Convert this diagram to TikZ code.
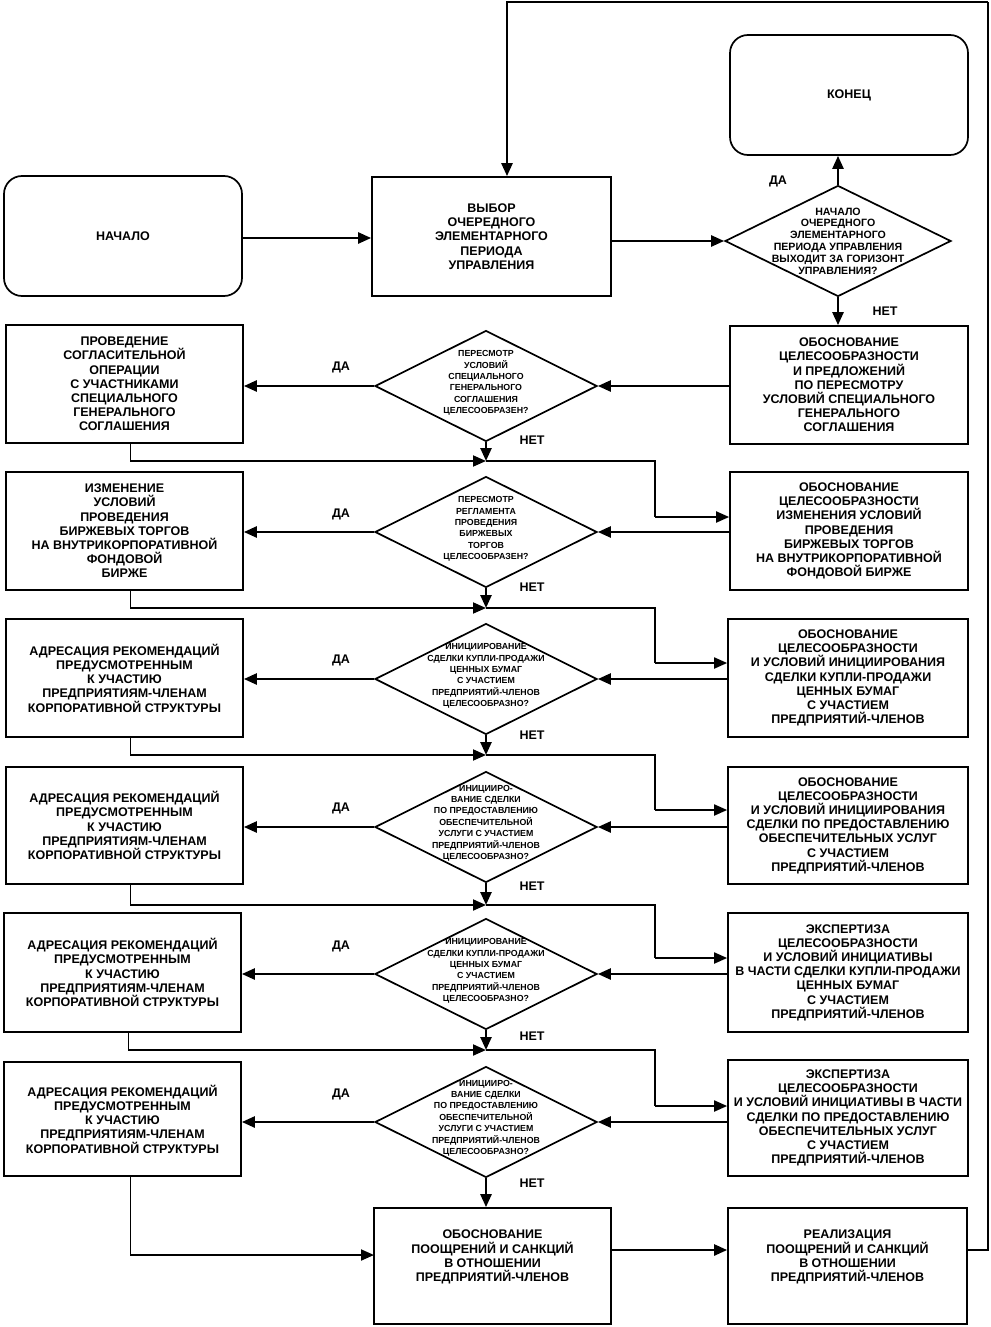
\documentclass[tikz,border=0pt]{standalone}
\usepackage{fontspec}
\setmainfont{Liberation Sans}
\usetikzlibrary{shapes.geometric,arrows.meta}
\newcommand\bxfont{\fontsize{12.5}{14.2}\selectfont\bfseries}
\newcommand\dmfont{\fontsize{8.8}{11.4}\selectfont\bfseries}
\newcommand\dmbigfont{\fontsize{10.6}{11.8}\selectfont\bfseries}
\newcommand\lbfont{\fontsize{12.5}{13}\selectfont\bfseries}
\begin{document}
\begin{tikzpicture}[x=1pt,y=-1pt,
  box/.style={draw, line width=1.7pt, align=center, inner sep=0pt, font=\bxfont,
    minimum width=238, minimum height=118},
  rbox/.style={box, rounded corners=18pt, minimum height=120},
  dia/.style={draw, diamond, line width=1.7pt, inner sep=0pt,
    minimum width=222, minimum height=111},
  dtxt/.style={align=center, inner sep=0pt, font=\dmfont},
  txt/.style={align=center, inner sep=0pt, font=\bxfont},
  lbl/.style={inner sep=0pt, font=\lbfont},
  conn/.style={line width=2.5pt, -{Triangle[length=13pt,width=11pt]}},
  merge/.style={line width=1.7pt},
  mergearr/.style={line width=1.9pt, -{Triangle[length=13pt,width=11pt]}},
]
\useasboundingbox (0,0) rectangle (990,1327);

% ---- top ----
\node[rbox] (start) at (123,236) {НАЧАЛО};
\node[box, minimum width=239, minimum height=119] (choose) at (491.5,236.5)
  {ВЫБОР\\ОЧЕРЕДНОГО\\ЭЛЕМЕНТАРНОГО\\ПЕРИОДА\\УПРАВЛЕНИЯ};
\node[rbox] (end) at (849,95) {КОНЕЦ};
\node[dia, minimum width=226] (d1) at (838,241) {};
\node[dtxt, font=\dmbigfont] (d1t) at (838,241)
  {НАЧАЛО\\ОЧЕРЕДНОГО\\ЭЛЕМЕНТАРНОГО\\ПЕРИОДА УПРАВЛЕНИЯ\\ВЫХОДИТ ЗА ГОРИЗОНТ\\УПРАВЛЕНИЯ?};
\node[lbl] (yes0) at (778,181) {ДА};
\node[lbl] (no0) at (885,311) {НЕТ};

% ---- row 1 ----
\node[box, minimum width=237] (l1) at (124.5,384)
  {ПРОВЕДЕНИЕ\\СОГЛАСИТЕЛЬНОЙ\\ОПЕРАЦИИ\\С УЧАСТНИКАМИ\\СПЕЦИАЛЬНОГО\\ГЕНЕРАЛЬНОГО\\СОГЛАШЕНИЯ};
\node[dia] (d2) at (486,386) {};
\node[dtxt] (d2t) at (486,383)
  {ПЕРЕСМОТР\\УСЛОВИЙ\\СПЕЦИАЛЬНОГО\\ГЕНЕРАЛЬНОГО\\СОГЛАШЕНИЯ\\ЦЕЛЕСООБРАЗЕН?};
\node[box] (r1) at (849,385)
  {ОБОСНОВАНИЕ\\ЦЕЛЕСООБРАЗНОСТИ\\И ПРЕДЛОЖЕНИЙ\\ПО ПЕРЕСМОТРУ\\УСЛОВИЙ СПЕЦИАЛЬНОГО\\ГЕНЕРАЛЬНОГО\\СОГЛАШЕНИЯ};
\node[lbl] (yes1) at (341,367) {ДА};
\node[lbl] (no1) at (532,440) {НЕТ};

% ---- row 2 ----
\node[box, minimum width=237] (l2) at (124.5,531)
  {ИЗМЕНЕНИЕ\\УСЛОВИЙ\\ПРОВЕДЕНИЯ\\БИРЖЕВЫХ ТОРГОВ\\НА ВНУТРИКОРПОРАТИВНОЙ\\ФОНДОВОЙ\\БИРЖЕ};
\node[dia] (d3) at (486,532) {};
\node[dtxt] (d3t) at (486,529)
  {ПЕРЕСМОТР\\РЕГЛАМЕНТА\\ПРОВЕДЕНИЯ\\БИРЖЕВЫХ\\ТОРГОВ\\ЦЕЛЕСООБРАЗЕН?};
\node[box] (r2) at (849,531)
  {ОБОСНОВАНИЕ\\ЦЕЛЕСООБРАЗНОСТИ\\ИЗМЕНЕНИЯ УСЛОВИЙ\\ПРОВЕДЕНИЯ\\БИРЖЕВЫХ ТОРГОВ\\НА ВНУТРИКОРПОРАТИВНОЙ\\ФОНДОВОЙ БИРЖЕ};
\node[lbl] (yes2) at (341,514) {ДА};
\node[lbl] (no2) at (532,587) {НЕТ};

% ---- row 3 ----
\node[box, minimum width=237] (l3) at (124.5,678)
  {АДРЕСАЦИЯ РЕКОМЕНДАЦИЙ\\ПРЕДУСМОТРЕННЫМ\\К УЧАСТИЮ\\ПРЕДПРИЯТИЯМ-ЧЛЕНАМ\\КОРПОРАТИВНОЙ СТРУКТУРЫ};
\node[dia] (d4) at (486,679) {};
\node[dtxt] (d4t) at (486,676)
  {ИНИЦИИРОВАНИЕ\\СДЕЛКИ КУПЛИ-ПРОДАЖИ\\ЦЕННЫХ БУМАГ\\С УЧАСТИЕМ\\ПРЕДПРИЯТИЙ-ЧЛЕНОВ\\ЦЕЛЕСООБРАЗНО?};
\node[box, minimum width=240] (r3) at (848,678)
  {ОБОСНОВАНИЕ\\ЦЕЛЕСООБРАЗНОСТИ\\И УСЛОВИЙ ИНИЦИИРОВАНИЯ\\СДЕЛКИ КУПЛИ-ПРОДАЖИ\\ЦЕННЫХ БУМАГ\\С УЧАСТИЕМ\\ПРЕДПРИЯТИЙ-ЧЛЕНОВ};
\node[lbl] (yes3) at (341,660) {ДА};
\node[lbl] (no3) at (532,735) {НЕТ};

% ---- row 4 ----
\node[box, minimum width=237, minimum height=117] (l4) at (124.5,825.5)
  {АДРЕСАЦИЯ РЕКОМЕНДАЦИЙ\\ПРЕДУСМОТРЕННЫМ\\К УЧАСТИЮ\\ПРЕДПРИЯТИЯМ-ЧЛЕНАМ\\КОРПОРАТИВНОЙ СТРУКТУРЫ};
\node[dia] (d5) at (486,827) {};
\node[dtxt] (d5t) at (486,823)
  {ИНИЦИИРО-\\ВАНИЕ СДЕЛКИ\\ПО ПРЕДОСТАВЛЕНИЮ\\ОБЕСПЕЧИТЕЛЬНОЙ\\УСЛУГИ С УЧАСТИЕМ\\ПРЕДПРИЯТИЙ-ЧЛЕНОВ\\ЦЕЛЕСООБРАЗНО?};
\node[box, minimum width=240, minimum height=117] (r4) at (848,825.5)
  {ОБОСНОВАНИЕ\\ЦЕЛЕСООБРАЗНОСТИ\\И УСЛОВИЙ ИНИЦИИРОВАНИЯ\\СДЕЛКИ ПО ПРЕДОСТАВЛЕНИЮ\\ОБЕСПЕЧИТЕЛЬНЫХ УСЛУГ\\С УЧАСТИЕМ\\ПРЕДПРИЯТИЙ-ЧЛЕНОВ};
\node[lbl] (yes4) at (341,808) {ДА};
\node[lbl] (no4) at (532,886) {НЕТ};

% ---- row 5 ----
\node[box, minimum width=237, minimum height=119] (l5) at (122.5,972.5)
  {АДРЕСАЦИЯ РЕКОМЕНДАЦИЙ\\ПРЕДУСМОТРЕННЫМ\\К УЧАСТИЮ\\ПРЕДПРИЯТИЯМ-ЧЛЕНАМ\\КОРПОРАТИВНОЙ СТРУКТУРЫ};
\node[dia] (d6) at (486,974) {};
\node[dtxt] (d6t) at (486,971)
  {ИНИЦИИРОВАНИЕ\\СДЕЛКИ КУПЛИ-ПРОДАЖИ\\ЦЕННЫХ БУМАГ\\С УЧАСТИЕМ\\ПРЕДПРИЯТИЙ-ЧЛЕНОВ\\ЦЕЛЕСООБРАЗНО?};
\node[box, minimum width=240, minimum height=119] (r5) at (848,972.5)
  {ЭКСПЕРТИЗА\\ЦЕЛЕСООБРАЗНОСТИ\\И УСЛОВИЙ ИНИЦИАТИВЫ\\В ЧАСТИ СДЕЛКИ КУПЛИ-ПРОДАЖИ\\ЦЕННЫХ БУМАГ\\С УЧАСТИЕМ\\ПРЕДПРИЯТИЙ-ЧЛЕНОВ};
\node[lbl] (yes5) at (341,946) {ДА};
\node[lbl] (no5) at (532,1036) {НЕТ};

% ---- row 6 ----
\node[box, minimum width=237, minimum height=114] (l6) at (122.5,1119)
  {АДРЕСАЦИЯ РЕКОМЕНДАЦИЙ\\ПРЕДУСМОТРЕННЫМ\\К УЧАСТИЮ\\ПРЕДПРИЯТИЯМ-ЧЛЕНАМ\\КОРПОРАТИВНОЙ СТРУКТУРЫ};
\node[dia] (d7) at (486,1122) {};
\node[dtxt] (d7t) at (486,1118)
  {ИНИЦИИРО-\\ВАНИЕ СДЕЛКИ\\ПО ПРЕДОСТАВЛЕНИЮ\\ОБЕСПЕЧИТЕЛЬНОЙ\\УСЛУГИ С УЧАСТИЕМ\\ПРЕДПРИЯТИЙ-ЧЛЕНОВ\\ЦЕЛЕСООБРАЗНО?};
\node[box, minimum width=240, minimum height=116] (r6) at (848,1118)
  {ЭКСПЕРТИЗА\\ЦЕЛЕСООБРАЗНОСТИ\\И УСЛОВИЙ ИНИЦИАТИВЫ В ЧАСТИ\\СДЕЛКИ ПО ПРЕДОСТАВЛЕНИЮ\\ОБЕСПЕЧИТЕЛЬНЫХ УСЛУГ\\С УЧАСТИЕМ\\ПРЕДПРИЯТИЙ-ЧЛЕНОВ};
\node[lbl] (yes6) at (341,1094) {ДА};
\node[lbl] (no6) at (532,1183) {НЕТ};

% ---- bottom ----
\node[box, minimum width=237, minimum height=116] (b1) at (492.5,1266) {};
\node[txt] (b1t) at (492.5,1257)
  {ОБОСНОВАНИЕ\\ПООЩРЕНИЙ И САНКЦИЙ\\В ОТНОШЕНИИ\\ПРЕДПРИЯТИЙ-ЧЛЕНОВ};
\node[box, minimum width=239, minimum height=116] (b2) at (847.5,1266) {};
\node[txt] (b2t) at (847.5,1257)
  {РЕАЛИЗАЦИЯ\\ПООЩРЕНИЙ И САНКЦИЙ\\В ОТНОШЕНИИ\\ПРЕДПРИЯТИЙ-ЧЛЕНОВ};

% ---- helper coordinates ----
\coordinate (j1) at (486,461);
\coordinate (j2) at (486,608);
\coordinate (j3) at (486,755);
\coordinate (j4) at (486,905);
\coordinate (j5) at (486,1050);
\coordinate (c2) at (655,517);
\coordinate (c3) at (655,663);
\coordinate (c4) at (655,810);
\coordinate (c5) at (655,958);
\coordinate (c6) at (655,1106);
\coordinate (bl) at (374,1255);
\coordinate (bb) at (611,1250);
\coordinate (rt) at (988,1250);
\coordinate (tr) at (988,2);
\coordinate (tl) at (507,2);

% ---- connectors: top ----
\draw[conn] (start.east |- 0,238) -- (choose.west |- 0,238);
\draw[conn] (choose.east |- d1.west) -- (d1.west);
\draw[conn] (d1.north) -- (d1.north |- end.south);
\draw[conn] (d1.south) -- (d1.south |- r1.north);

% ---- rows ----
\foreach \r/\d/\l/\j/\c/\n in {r1/d2/l1/j1/c2/r2, r2/d3/l2/j2/c3/r3, r3/d4/l3/j3/c4/r4, r4/d5/l4/j4/c5/r5, r5/d6/l5/j5/c6/r6}{
  \draw[conn] (\r.west |- \d.east) -- (\d.east);
  \draw[conn] (\d.west) -- (\d.west -| \l.east);
  \draw[conn] (\d.south) -- (\j);
  \draw[mergearr] ([xshift=6pt]\l.south) |- (\j);
  \draw[merge] (\j) -| (\c);
  \draw[mergearr] (\c) -- (\c -| \n.west);
}
\draw[conn] (r6.west |- d7.east) -- (d7.east);
\draw[conn] (d7.west) -- (d7.west -| l6.east);
\draw[conn] (d7.south) -- (d7.south |- b1.north);
\draw[mergearr] ([xshift=8pt]l6.south) |- (bl);
\draw[conn] (bb) -- (bb -| b2.west);

% ---- return loop ----
\draw[line width=1.7pt] (b2.east |- rt) -- (rt) -- (tr);
\draw[conn] (tr) -- (tl) -- (tl |- choose.north);
\end{tikzpicture}
\end{document}
